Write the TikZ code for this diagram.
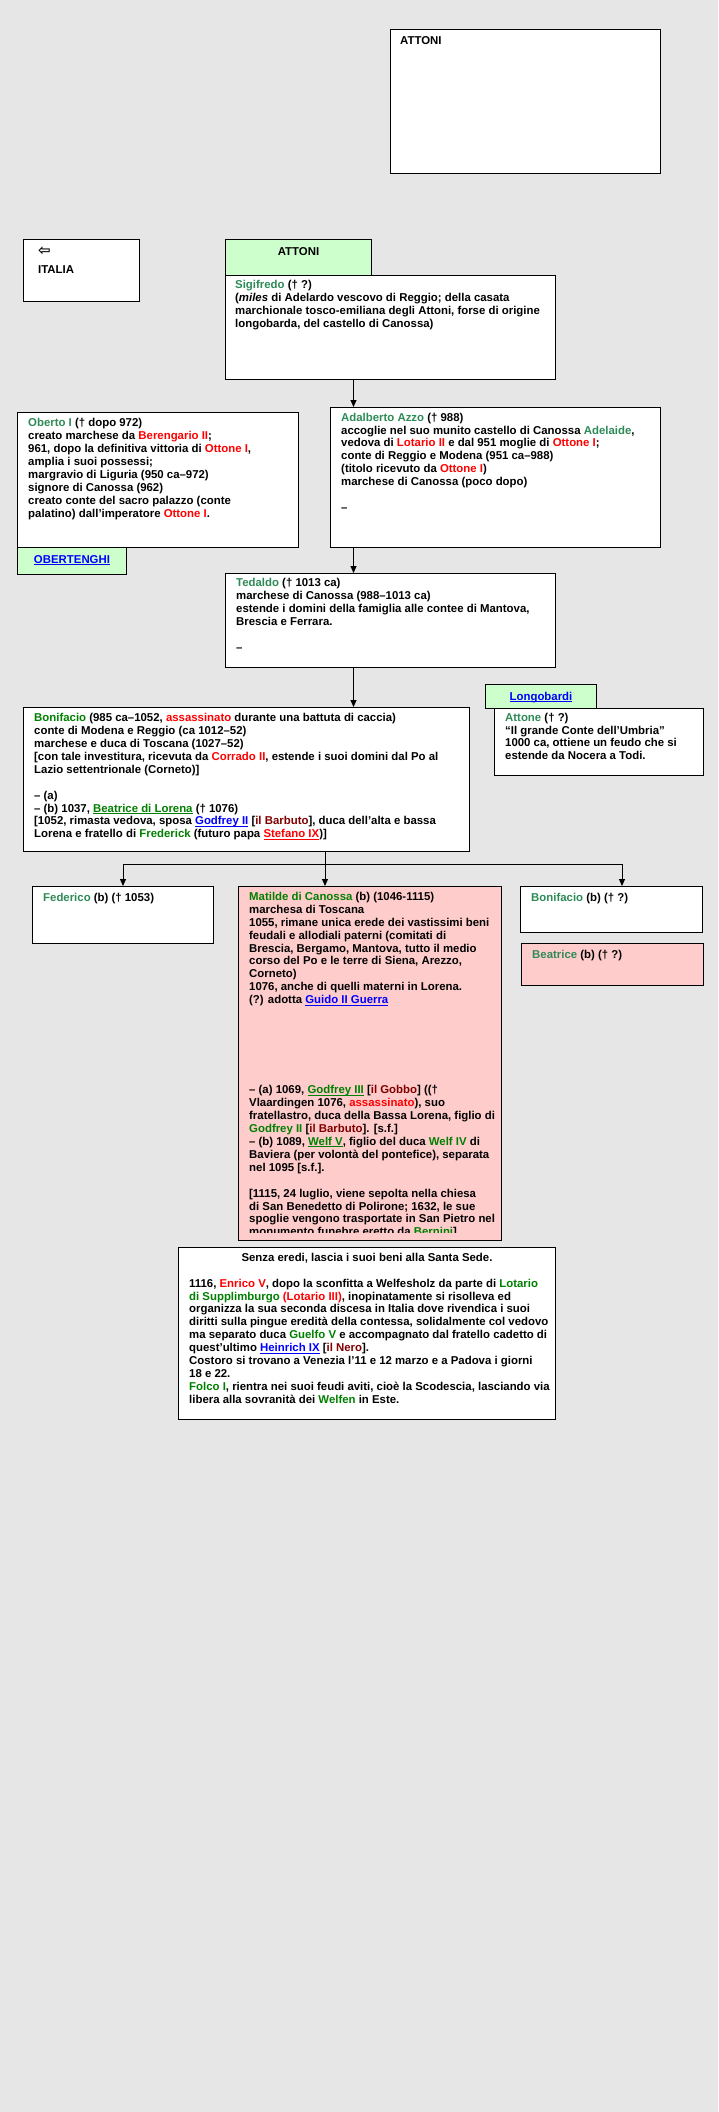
\documentclass[tikz,border=0pt]{standalone}
\usepackage{fontspec}
\setmainfont{Liberation Sans}
\newfontfamily\arrowfont{DejaVu Sans}
\usepackage{xcolor}
\usepackage{tikz}
\usetikzlibrary{arrows.meta,positioning,calc}
\definecolor{canvas}{HTML}{E6E6E6}
\definecolor{tabgreen}{HTML}{CCFFCC}
\definecolor{rosefill}{HTML}{FFCCCC}
\definecolor{seagrn}{HTML}{2E8B57}
\definecolor{leafgrn}{HTML}{008000}
\definecolor{redname}{HTML}{FF0000}
\definecolor{epithet}{HTML}{800000}
\definecolor{linkblue}{HTML}{0000FF}
\newcommand{\pname}[1]{\textcolor{seagrn}{#1}}
\newcommand{\gname}[1]{\textcolor{leafgrn}{#1}}
\newcommand{\rname}[1]{\textcolor{redname}{#1}}
\newcommand{\epi}[1]{\textcolor{epithet}{#1}}
\newcommand{\ulink}[2][linkblue]{\textcolor{#1}{\setbox0=\hbox{#2}\rlap{\rule[-1.7pt]{\wd0}{0.8pt}}\box0}}

\begin{document}
\begin{tikzpicture}[x=1pt,y=-1pt,
  font=\fontsize{11.4}{12.9}\selectfont\bfseries,
  box/.style={draw=black,line width=1pt,fill=white,anchor=north west,inner sep=0pt},
  tab/.style={box,fill=tabgreen},
  txt/.style={anchor=north west,inner sep=0pt,align=left,execute at begin node=\strut},
  head/.style={anchor=base,inner sep=0pt},
  arr/.style={-{Triangle[length=7pt,width=6pt]},line width=1pt}]
\fill[canvas] (0,0) rectangle (718,2112);
\useasboundingbox (0,0) rectangle (718,2112);

\node[box,minimum width=270pt,minimum height=144pt] (attoni) at (390,29) {};
\node[txt] (attonitxt) at ([shift={(10,6)}]attoni.north west) {ATTONI};

\node[box,minimum width=116pt,minimum height=62pt] (italia) at (23,239) {};
\node[txt] (italiatxt) at ([shift={(15,7.8)}]italia.north west) {{\arrowfont\fontsize{15}{12.9}\selectfont ⇦}\\[5.3pt]ITALIA};

% Attoni
\node[tab,minimum width=146pt,minimum height=36pt] (attonitab) at (225,239) {};
\node[head] (attonitabtxt) at ([shift={(0,16)}]attonitab.north) {ATTONI};
\node[box,minimum width=330pt,minimum height=104pt] (sigifredo) at (225,275) {};
\node[txt] (sigifredotxt) at ([shift={(10,5.2)}]sigifredo.north west) {\pname{Sigifredo} († ?)\\
(\textit{miles} di Adelardo vescovo di Reggio; della casata\\
marchionale tosco-emiliana degli Attoni, forse di origine\\
longobarda, del castello di Canossa)};

\node[box,minimum width=281pt,minimum height=135pt] (oberto) at (17,412) {};
\node[txt] (obertotxt) at ([shift={(11,6.3)}]oberto.north west) {\pname{Oberto I} († dopo 972)\\
creato marchese da \rname{Berengario II};\\
961, dopo la definitiva vittoria di \rname{Ottone I},\\
amplia i suoi possessi;\\
margravio di Liguria (950 ca–972)\\
signore di Canossa (962)\\
creato conte del sacro palazzo (conte\\
palatino) dall’imperatore \rname{Ottone I}.};
\node[tab,minimum width=109pt,minimum height=27pt] (obertenghi) at (17,547) {};
\node[head] (obertenghitxt) at ([shift={(0,16.3)}]obertenghi.north) {\ulink{OBERTENGHI}};

\node[box,minimum width=330pt,minimum height=140pt] (adalberto) at (330,407) {};
\node[txt] (adalbertotxt) at ([shift={(11,5.7)}]adalberto.north west) {\pname{Adalberto Azzo} († 988)\\
accoglie nel suo munito castello di Canossa \pname{Adelaide},\\
vedova di \rname{Lotario II} e dal 951 moglie di \rname{Ottone I};\\
conte di Reggio e Modena (951 ca–988)\\
(titolo ricevuto da \rname{Ottone I})\\
marchese di Canossa (poco dopo)\\
\mbox{}\\
–};

\node[box,minimum width=330pt,minimum height=94pt] (tedaldo) at (225,573) {};
\node[txt] (tedaldotxt) at ([shift={(11,5.3)}]tedaldo.north west) {\pname{Tedaldo} († 1013 ca)\\
marchese di Canossa (988–1013 ca)\\
estende i domini della famiglia alle contee di Mantova,\\
Brescia e Ferrara.\\
\mbox{}\\
–};

% Longobardi
\node[tab,minimum width=111pt,minimum height=24pt] (longobardi) at (485,684) {};
\node[head] (longobarditxt) at ([shift={(0,16)}]longobardi.north) {\ulink{Longobardi}};
\node[box,minimum width=209pt,minimum height=67pt] (attone) at (494,708) {};
\node[txt] (attonetxt) at ([shift={(11,4.7)}]attone.north west) {\pname{Attone} († ?)\\
“Il grande Conte dell’Umbria”\\
1000 ca, ottiene un feudo che si\\
estende da Nocera a Todi.};

\node[box,minimum width=446pt,minimum height=144pt] (bonifacio) at (23,707) {};
\node[txt] (bonifaciotxt) at ([shift={(11,6.3)}]bonifacio.north west) {\gname{Bonifacio} (985 ca–1052, \rname{assassinato} durante una battuta di caccia)\\
conte di Modena e Reggio (ca 1012–52)\\
marchese e duca di Toscana (1027–52)\\
{[}con tale investitura, ricevuta da \rname{Corrado II}, estende i suoi domini dal Po al\\
Lazio settentrionale (Corneto)]\\
\mbox{}\\
– (a)\\
– (b) 1037, \ulink[leafgrn]{Beatrice di Lorena} († 1076)\\
{[}1052, rimasta vedova, sposa \ulink{Godfrey II} [\epi{il Barbuto}], duca dell’alta e bassa\\
Lorena e fratello di \gname{Frederick} (futuro papa \ulink[redname]{Stefano IX})]};

% figli
\node[box,minimum width=181pt,minimum height=57pt] (federico) at (32,886) {};
\node[txt] (federicotxt) at ([shift={(11,6.5)}]federico.north west) {\pname{Federico} (b) († 1053)};

\node[box,fill=rosefill,minimum width=263pt,minimum height=354pt] (matilde) at (238,886) {};
\begin{scope}
\clip (matilde.north west) rectangle ([yshift=8.5pt]matilde.south east);
\node[txt] (matildetxt) at ([shift={(11,6)}]matilde.north west) {\gname{Matilde di Canossa} (b) (1046-1115)\\
marchesa di Toscana\\
1055, rimane unica erede dei vastissimi beni\\
feudali e allodiali paterni (comitati di\\
Brescia, Bergamo, Mantova, tutto il medio\\
corso del Po e le terre di Siena, Arezzo,\\
Corneto)\\
1076, anche di quelli materni in Lorena.\\
(?) adotta \ulink{Guido II Guerra}\\
\mbox{}\\
\mbox{}\\
\mbox{}\\
\mbox{}\\
\mbox{}\\
\mbox{}\\
– (a) 1069, \ulink[leafgrn]{Godfrey III} [\epi{il Gobbo}] ((†\\
Vlaardingen 1076, \rname{assassinato}), suo\\
fratellastro, duca della Bassa Lorena, figlio di\\
\gname{Godfrey II} [\epi{il Barbuto}]. [s.f.]\\
– (b) 1089, \ulink[leafgrn]{Welf V}, figlio del duca \gname{Welf IV} di\\
Baviera (per volontà del pontefice), separata\\
nel 1095 [s.f.].\\
\mbox{}\\
{[}1115, 24 luglio, viene sepolta nella chiesa\\
di San Benedetto di Polirone; 1632, le sue\\
spoglie vengono trasportate in San Pietro nel\\
monumento funebre eretto da \gname{Bernini}]};
\end{scope}

\node[box,minimum width=182pt,minimum height=46pt] (bonifaciob) at (520,886) {};
\node[txt] (bonifaciobtxt) at ([shift={(11,6.5)}]bonifaciob.north west) {\pname{Bonifacio} (b) († ?)};
\node[box,fill=rosefill,minimum width=182pt,minimum height=42pt] (beatrice) at (521,943) {};
\node[txt] (beatricetxt) at ([shift={(11,6.7)}]beatrice.north west) {\pname{Beatrice} (b) († ?)};

\node[box,minimum width=377pt,minimum height=172pt] (senza) at (178,1247) {};
\node[head] (senzatitle) at ([shift={(0,14.7)}]senza.north) {Senza eredi, lascia i suoi beni alla Santa Sede.};
\node[txt] (senzatxt) at ([shift={(11,31.7)}]senza.north west) {1116, \rname{Enrico V}, dopo la sconfitta a Welfesholz da parte di \gname{Lotario}\\
\gname{di Supplimburgo} \rname{(Lotario III)}, inopinatamente si risolleva ed\\
organizza la sua seconda discesa in Italia dove rivendica i suoi\\
diritti sulla pingue eredità della contessa, solidalmente col vedovo\\
ma separato duca \gname{Guelfo V} e accompagnato dal fratello cadetto di\\
quest’ultimo \ulink{Heinrich IX} [\epi{il Nero}].\\
Costoro si trovano a Venezia l’11 e 12 marzo e a Padova i giorni\\
18 e 22.\\
\gname{Folco I}, rientra nei suoi feudi aviti, cioè la Scodescia, lasciando via\\
libera alla sovranità dei \gname{Welfen} in Este.};

% connettori
\coordinate (spine) at (353.5,0);
\draw[arr] (sigifredo.south -| spine) -- (adalberto.north -| spine);
\draw[arr] (adalberto.south -| spine) -- (tedaldo.north -| spine);
\draw[arr] (tedaldo.south -| spine) -- (bonifacio.north -| spine);
\coordinate (branch) at (325,864);
\coordinate (branchend) at (622,864);
\draw[line width=1pt] (bonifacio.south -| branch) -- (branch);
\draw[line width=1pt] (branch -| federico.north) -- (branchend);
\draw[arr] (branch -| federico.north) -- (federico.north);
\draw[arr] (branch) -- (matilde.north -| branch);
\draw[arr] (branchend) -- (bonifaciob.north -| branchend);
\end{tikzpicture}
\end{document}
